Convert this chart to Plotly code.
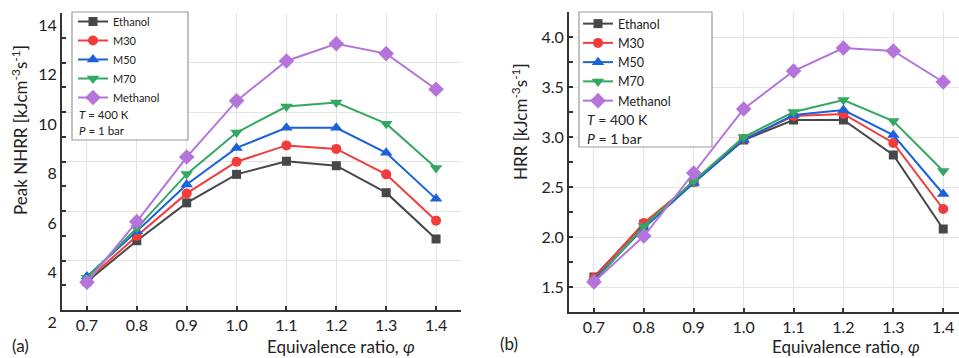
import plotly.graph_objects as go

# ---------------- data ----------------
phi = [0.7, 0.8, 0.9, 1.0, 1.1, 1.2, 1.3, 1.4]
series_names = ["Ethanol", "M30", "M50", "M70", "Methanol"]

nhrr_ethanol  = [3.14, 4.80, 6.33, 7.48, 8.01, 7.83, 6.74, 4.87]
nhrr_m30      = [3.20, 4.99, 6.71, 7.99, 8.65, 8.51, 7.48, 5.61]
nhrr_m50      = [3.35, 5.18, 7.07, 8.55, 9.36, 9.36, 8.35, 6.49]
nhrr_m70      = [3.30, 5.31, 7.49, 9.17, 10.22, 10.38, 9.53, 7.74]
nhrr_methanol = [3.12, 5.57, 8.18, 10.45, 12.06, 12.76, 12.36, 10.92]

hrr_ethanol  = [1.60, 2.13, 2.55, 2.97, 3.17, 3.17, 2.82, 2.08]
hrr_m30      = [1.59, 2.14, 2.55, 2.98, 3.21, 3.23, 2.94, 2.28]
hrr_m50      = [1.57, 2.09, 2.54, 2.97, 3.22, 3.27, 3.02, 2.43]
hrr_m70      = [1.55, 2.11, 2.56, 3.00, 3.25, 3.37, 3.16, 2.66]
hrr_methanol = [1.55, 2.01, 2.64, 3.28, 3.66, 3.89, 3.86, 3.55]

x_tickvals = [0.7, 0.8, 0.9, 1.0, 1.1, 1.2, 1.3, 1.4]
x_ticktext = ["0.7", "0.8", "0.9", "1.0", "1.1", "1.2", "1.3", "1.4"]
ya_tickvals = [2, 4, 6, 8, 10, 12, 14]
ya_ticktext = ["2", "4", "6", "8", "10", "12", "14"]
yb_tickvals = [1.5, 2.0, 2.5, 3.0, 3.5, 4.0]
yb_ticktext = ["1.5", "2.0", "2.5", "3.0", "3.5", "4.0"]

# ---------------- styles ----------------
colors = ["#474747", "#f23b3b", "#1b62d9", "#33a862", "#b474dc"]
symbols = ["square", "circle", "triangle-up", "triangle-down", "diamond"]
msizes = [9, 10, 11, 11, 12]
FONT = "Lato"
TXT = "#222222"
W, H = 959, 358

def px(x):
    return x / W

def py(y):
    return 1 - y / H

fig = go.Figure()

nhrr = [nhrr_ethanol, nhrr_m30, nhrr_m50, nhrr_m70, nhrr_methanol]
hrr = [hrr_ethanol, hrr_m30, hrr_m50, hrr_m70, hrr_methanol]

for i, name in enumerate(series_names):
    fig.add_trace(go.Scatter(
        x=phi, y=nhrr[i], name=name, mode="lines+markers",
        line=dict(color=colors[i], width=2),
        marker=dict(symbol=symbols[i], size=msizes[i], color=colors[i]),
        xaxis="x", yaxis="y", legend="legend"))
for i, name in enumerate(series_names):
    fig.add_trace(go.Scatter(
        x=phi, y=hrr[i], name=name, mode="lines+markers",
        line=dict(color=colors[i], width=2),
        marker=dict(symbol=symbols[i], size=msizes[i], color=colors[i]),
        xaxis="x2", yaxis="y2", legend="legend2"))

axis_common = dict(
    showline=True, linecolor="#333333", linewidth=2, mirror=False,
    ticks="inside", ticklen=4, tickwidth=1.5, tickcolor="#333333",
    showgrid=True, gridcolor="#e4e4e4", gridwidth=1, zeroline=False,
    tickfont=dict(family=FONT, size=16, color=TXT),
    automargin=False, ticklabeloverflow="allow",
)

fig.update_layout(
    width=W, height=H,
    margin=dict(l=0, r=0, t=0, b=0),
    paper_bgcolor="white", plot_bgcolor="white",
    font=dict(family=FONT, color=TXT),
    xaxis=dict(domain=[px(62), px(461)], range=[0.65, 1.45],
               tickvals=x_tickvals, ticktext=x_ticktext, anchor="y", **axis_common),
    yaxis=dict(domain=[py(310), py(13)], range=[2, 14],
               tickvals=ya_tickvals, ticktext=ya_ticktext, anchor="x",
               ticklabelshift=12,
               minor=dict(dtick=1, ticks="inside", ticklen=4, tickcolor="#333333", showgrid=False),
               **axis_common),
    xaxis2=dict(domain=[px(569), 1.0], range=[0.65, 1.4316],
                tickvals=x_tickvals, ticktext=x_ticktext, anchor="y2", **axis_common),
    yaxis2=dict(domain=[py(312), py(12)], range=[1.25, 4.25],
                tickvals=yb_tickvals, ticktext=yb_ticktext, anchor="x2",
                minor=dict(dtick=0.25, ticks="inside", ticklen=4, tickcolor="#333333", showgrid=False),
                **axis_common),
    legend=dict(x=px(73), y=py(7), xanchor="left", yanchor="top",
                bgcolor="rgba(255,255,255,0)", borderwidth=0,
                font=dict(family=FONT, size=11, color=TXT),
                tracegroupgap=0),
    legend2=dict(x=px(578), y=py(9), xanchor="left", yanchor="top",
                 bgcolor="rgba(255,255,255,0)", borderwidth=0,
                 font=dict(family=FONT, size=12.5, color=TXT),
                 tracegroupgap=0),
    showlegend=True,
)

# legend boxes (white fill, gray border) drawn beneath legends
fig.add_shape(type="rect", xref="paper", yref="paper",
              x0=px(72), x1=px(188), y0=py(140), y1=py(12),
              line=dict(color="#9a9a9a", width=1.2), fillcolor="white", layer="above")
fig.add_shape(type="rect", xref="paper", yref="paper",
              x0=px(579), x1=px(712), y0=py(147), y1=py(12),
              line=dict(color="#9a9a9a", width=1.2), fillcolor="white", layer="above")

ann = []
# conditions text inside legends
ann.append(dict(text="<i>T</i> = 400 K", x=px(77), y=py(115), xanchor="left", yanchor="middle",
                font=dict(family=FONT, size=11.5, color=TXT)))
ann.append(dict(text="<i>P</i> = 1 bar", x=px(77), y=py(131), xanchor="left", yanchor="middle",
                font=dict(family=FONT, size=11.5, color=TXT)))
ann.append(dict(text="<i>T</i> = 400 K", x=px(585), y=py(119), xanchor="left", yanchor="middle",
                font=dict(family=FONT, size=14, color=TXT)))
ann.append(dict(text="<i>P</i> = 1 bar", x=px(585), y=py(138), xanchor="left", yanchor="middle",
                font=dict(family=FONT, size=14, color=TXT)))
# axis titles
ann.append(dict(text="Peak NHRR [kJcm<sup>-3</sup>s<sup>-1</sup>]", x=px(19), y=py(130),
                textangle=-90, xanchor="center", yanchor="middle",
                font=dict(family=FONT, size=17, color=TXT)))
ann.append(dict(text="HRR [kJcm<sup>-3</sup>s<sup>-1</sup>]", x=px(520), y=py(122),
                textangle=-90, xanchor="center", yanchor="middle",
                font=dict(family=FONT, size=17, color=TXT)))
ann.append(dict(text="Equivalence ratio, <i>φ</i>", x=px(341), y=py(346),
                xanchor="center", yanchor="middle",
                font=dict(family=FONT, size=17, color=TXT)))
ann.append(dict(text="Equivalence ratio, <i>φ</i>", x=px(846), y=py(346),
                xanchor="center", yanchor="middle",
                font=dict(family=FONT, size=17, color=TXT)))
# panel labels
ann.append(dict(text="(a)", x=px(20), y=py(345), xanchor="center", yanchor="middle",
                font=dict(family=FONT, size=17, color=TXT)))
ann.append(dict(text="(b)", x=px(509), y=py(343), xanchor="center", yanchor="middle",
                font=dict(family=FONT, size=17, color=TXT)))

for a in ann:
    a.update(xref="paper", yref="paper", showarrow=False)
fig.update_layout(annotations=ann)

# remove the default page margin so the figure fills the window exactly
fig.write_html("out.html",
               config={"displayModeBar": False},
               post_script="document.body.style.margin='0';document.body.style.overflow='hidden';")
